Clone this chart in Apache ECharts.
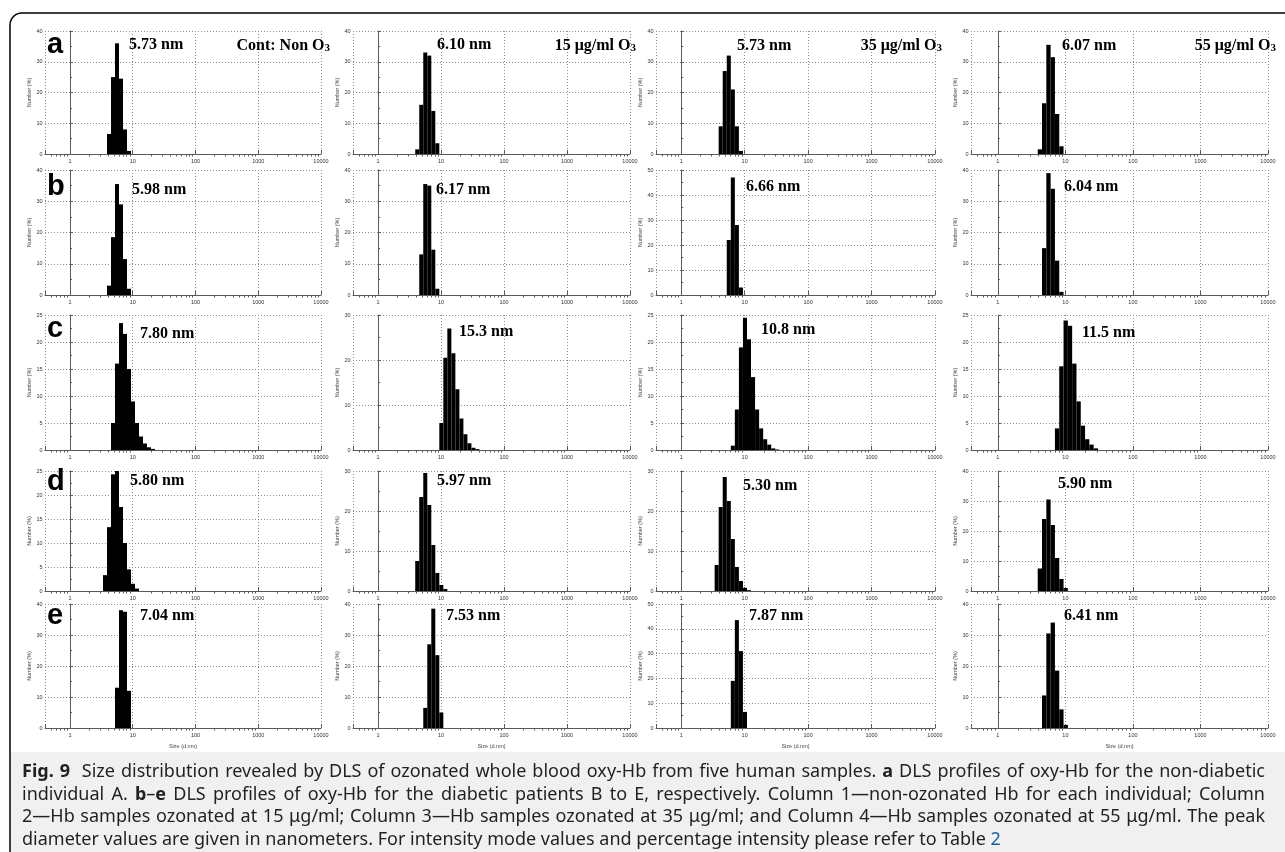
<!DOCTYPE html>
<html>
<head>
<meta charset="utf-8">
<script src="https://cdn.jsdelivr.net/npm/echarts@6/dist/echarts.min.js"></script>
<style>
html,body{margin:0;padding:0;background:#fff;}
#chart{position:absolute;left:0;top:0;width:1285px;height:852px;}
#cap{position:absolute;left:22px;top:759px;width:1243px;font-family:"Noto Sans",sans-serif;font-size:16px;line-height:22.5px;color:#231f20;}
#cap div{text-align:justify;text-align-last:justify;white-space:nowrap;}
#cap div.last{text-align-last:left;}
#cap .lnk{color:#1a5fa8;}
</style>
</head>
<body>
<div id="chart"></div>
<div id="cap">
<div><b>Fig. 9</b>&nbsp; Size distribution revealed by DLS of ozonated whole blood oxy-Hb from five human samples. <b>a</b> DLS profiles of oxy-Hb for the non-diabetic</div>
<div>individual A. <b>b</b>–<b>e</b> DLS profiles of oxy-Hb for the diabetic patients B to E, respectively. Column 1—non-ozonated Hb for each individual; Column</div>
<div>2—Hb samples ozonated at 15 μg/ml; Column 3—Hb samples ozonated at 35 μg/ml; and Column 4—Hb samples ozonated at 55 μg/ml. The peak</div>
<div class="last">diameter values are given in nanometers. For intensity mode values and percentage intensity please refer to Table <span class="lnk">2</span></div>
</div>
<script>
// Zetasizer size classes (nm) – bar centres
const SIZE_CLASSES = [3.122, 3.615, 4.187, 4.849, 5.615, 6.503, 7.531, 8.721, 10.10, 11.70, 13.54, 15.69, 18.17, 21.04, 24.36, 28.21, 32.67, 37.84, 43.82];

// Number (%) per size class, one array per panel (rows a–e, columns 1–4)
const a1 = [0, 0, 6.5, 25, 36, 24.5, 8, 1, 0, 0, 0, 0, 0, 0, 0, 0, 0, 0, 0];
const a2 = [0, 0, 1.5, 16, 33, 32, 14, 3.5, 0, 0, 0, 0, 0, 0, 0, 0, 0, 0, 0];
const a3 = [0, 0, 9, 27, 32, 21, 9, 1, 0, 0, 0, 0, 0, 0, 0, 0, 0, 0, 0];
const a4 = [0, 0, 1.5, 16.5, 35.5, 31.5, 13, 2.5, 0, 0, 0, 0, 0, 0, 0, 0, 0, 0, 0];
const b1 = [0, 0, 3, 18.5, 35.5, 29, 11.5, 2, 0, 0, 0, 0, 0, 0, 0, 0, 0, 0, 0];
const b2 = [0, 0, 0, 13, 35.5, 35, 14.5, 2, 0, 0, 0, 0, 0, 0, 0, 0, 0, 0, 0];
const b3 = [0, 0, 0, 0, 22, 47, 28, 3, 0, 0, 0, 0, 0, 0, 0, 0, 0, 0, 0];
const b4 = [0, 0, 0, 15, 39, 34, 11, 1, 0, 0, 0, 0, 0, 0, 0, 0, 0, 0, 0];
const c1 = [0, 0, 0, 5, 16, 23.5, 21.5, 15, 9, 5, 2.5, 1.2, 0.5, 0.2, 0, 0, 0, 0, 0];
const c2 = [0, 0, 0, 0, 0, 0, 0, 0, 6, 20.5, 27, 21.5, 13.5, 7, 3.5, 1.5, 0.5, 0.2, 0];
const c3 = [0, 0, 0, 0, 0, 0.8, 7.5, 19, 24.5, 20.5, 13.5, 7.5, 4, 2, 1, 0.3, 0.1, 0, 0];
const c4 = [0, 0, 0, 0, 0, 0, 4, 15.5, 24, 23, 16, 9, 4.5, 2, 1, 0.3, 0, 0, 0];
const d1 = [0, 3.3, 13.3, 24.3, 25, 17.5, 10, 4.5, 1.5, 0.5, 0, 0, 0, 0, 0, 0, 0, 0, 0];
const d2 = [0, 0, 7.5, 23.5, 29.5, 21.5, 11.5, 4.5, 1.5, 0.5, 0, 0, 0, 0, 0, 0, 0, 0, 0];
const d3 = [0, 6.5, 21, 28.5, 22.5, 13, 6, 2.5, 0.8, 0.2, 0, 0, 0, 0, 0, 0, 0, 0, 0];
const d4 = [0, 0, 7.5, 24, 30.5, 22, 11, 4, 1, 0, 0, 0, 0, 0, 0, 0, 0, 0, 0];
const e1 = [0, 0, 0, 0, 13, 38, 37.5, 12, 0, 0, 0, 0, 0, 0, 0, 0, 0, 0, 0];
const e2 = [0, 0, 0, 0, 6.5, 27, 38.5, 23.5, 5, 0, 0, 0, 0, 0, 0, 0, 0, 0, 0];
const e3 = [0, 0, 0, 0, 0, 19, 43.5, 31, 6.5, 0, 0, 0, 0, 0, 0, 0, 0, 0, 0];
const e4 = [0, 0, 0, 10.5, 30.5, 34, 18.5, 6, 1, 0, 0, 0, 0, 0, 0, 0, 0, 0, 0];
const PANELS = [a1, a2, a3, a4, b1, b2, b3, b4, c1, c2, c3, c4, d1, d2, d3, d4, e1, e2, e3, e4];

const PEAK_LABELS = ['5.73 nm', '6.10 nm', '5.73 nm', '6.07 nm',
                     '5.98 nm', '6.17 nm', '6.66 nm', '6.04 nm',
                     '7.80 nm', '15.3 nm', '10.8 nm', '11.5 nm',
                     '5.80 nm', '5.97 nm', '5.30 nm', '5.90 nm',
                     '7.04 nm', '7.53 nm', '7.87 nm', '6.41 nm'];
const Y_MAX = [40, 40, 40, 40, 40, 40, 50, 40, 25, 30, 25, 25, 25, 30, 30, 40, 40, 40, 50, 40];
const Y_INTERVAL = [10, 10, 10, 10, 10, 10, 10, 10, 5, 10, 5, 5, 5, 10, 10, 10, 10, 10, 10, 10];
const ROW_LETTERS = ['a', 'b', 'c', 'd', 'e'];
const COLUMN_TITLES = ['Cont: Non O', '15 μg/ml O', '35 μg/ml O', '55 μg/ml O'];
const X_MIN = 0.4, X_MAX = 10000;
const X_MINOR_TICKS = [0.5, 0.6, 0.7, 0.8, 0.9, 2, 3, 4, 5, 6, 7, 8, 9, 20, 30, 40, 50, 60, 70, 80, 90,
                       200, 300, 400, 500, 600, 700, 800, 900, 2000, 3000, 4000, 5000, 6000, 7000, 8000, 9000];

// layout (px)
const ROW_TOP = [31, 170, 315, 471, 604];
const ROW_BOTTOM = [154, 295, 450, 591, 728];
const COL_LEFT = [45, 353, 656, 971];
const COL_RIGHT = [321, 630, 935, 1268];
const PEAK_POS = [[129, 45], [437, 45], [737, 46], [1062, 46],
                  [132, 190], [436, 190], [746, 187], [1064, 187],
                  [140, 334], [459, 332], [761, 330], [1082, 333],
                  [130, 481], [437, 481], [743, 486], [1058, 484],
                  [140, 616], [446, 616], [749, 616], [1064, 616]];
const TITLE_POS = [[330, 45], [636, 45], [942, 45], [1276, 45]];
const LETTER_POS = [[47, 45], [47, 187], [47, 329], [47, 482], [47, 616]];

const AX = '#5a5a5a';
const GRIDC = '#8c8c8c';
const TICKFONT = 5.5;
const option = {animation: false, backgroundColor: '#fff', grid: [], xAxis: [], yAxis: [], series: [], graphic: []};

PANELS.forEach((vals, i) => {
  const r = Math.floor(i / 4), c = i % 4;
  option.grid.push({
    left: COL_LEFT[c], top: ROW_TOP[r],
    width: COL_RIGHT[c] - COL_LEFT[c], height: ROW_BOTTOM[r] - ROW_TOP[r],
    containLabel: false, outerBoundsMode: 'none'
  });
  option.xAxis.push({
    type: 'log', logBase: 10, gridIndex: i, min: X_MIN, max: X_MAX,
    axisLine: {show: true, onZero: false, lineStyle: {color: AX, width: 1}},
    axisTick: {show: true, inside: true, length: 4, lineStyle: {color: AX}},
    axisLabel: {fontSize: TICKFONT, color: '#333', margin: 4, fontFamily: 'Liberation Sans',
      formatter: v => (v < 0.99 ? '' : String(Math.round(v)))},
    splitLine: {show: true, lineStyle: {color: GRIDC, type: [1, 2], width: 1}},
    name: r === 4 ? 'Size (d.nm)' : '', nameLocation: 'middle', nameGap: 15,
    nameTextStyle: {fontSize: 5.5, color: '#444', fontFamily: 'Liberation Sans'}
  });
  option.xAxis.push({
    type: 'value', gridIndex: i, min: Math.log10(X_MIN), max: Math.log10(X_MAX),
    axisLine: {show: false},
    axisTick: {show: true, inside: true, length: 2.5, lineStyle: {color: AX},
      customValues: X_MINOR_TICKS.map(v => Math.log10(v))},
    axisLabel: {show: false}, splitLine: {show: false}
  });
  option.yAxis.push({
    type: 'value', gridIndex: i, min: 0, max: Y_MAX[i], interval: Y_INTERVAL[i],
    axisLine: {show: true, lineStyle: {color: AX, width: 1}},
    axisTick: {show: true, inside: true, length: 3, lineStyle: {color: AX}},
    minorTick: {show: true, splitNumber: 2, length: 2, lineStyle: {color: AX}},
    axisLabel: {fontSize: TICKFONT, color: '#333', margin: 2.5, fontFamily: 'Liberation Sans'},
    splitLine: {show: true, lineStyle: {color: GRIDC, type: [1, 2], width: 1}},
    name: 'Number (%)', nameLocation: 'middle', nameGap: 13,
    nameTextStyle: {fontSize: 5.5, color: '#444', fontFamily: 'Liberation Sans'}
  });
  const data = [];
  vals.forEach((v, k) => {
    if (v <= 0) return;
    const lo = Math.sqrt(SIZE_CLASSES[k - 1] * SIZE_CLASSES[k]);
    const hi = Math.sqrt(SIZE_CLASSES[k] * SIZE_CLASSES[k + 1]);
    data.push([lo, hi, v]);
  });
  option.series.push({
    type: 'custom', xAxisIndex: 2 * i, yAxisIndex: i, data: data,
    encode: {x: [0, 1], y: 2},
    renderItem: (params, api) => {
      const p0 = api.coord([api.value(0), api.value(2)]);
      const p1 = api.coord([api.value(1), 0]);
      return {type: 'rect', shape: {x: p0[0], y: p0[1], width: p1[0] - p0[0], height: p1[1] - p0[1]},
              style: {fill: '#000'}};
    }
  });
  option.graphic.push({
    type: 'text', x: PEAK_POS[i][0], y: PEAK_POS[i][1], z: 50,
    style: {text: PEAK_LABELS[i], fontFamily: 'Liberation Serif', fontWeight: 'bold', fontSize: 16,
            fill: '#000', align: 'left', verticalAlign: 'middle'}
  });
});

COLUMN_TITLES.forEach((t, c) => {
  option.graphic.push({
    type: 'text', x: TITLE_POS[c][0], y: TITLE_POS[c][1], z: 50,
    style: {text: '{t|' + t + '}{s|3}', align: 'right', verticalAlign: 'middle',
      rich: {
        t: {fontFamily: 'Liberation Serif', fontWeight: 'bold', fontSize: 16, fill: '#000', lineHeight: 18, verticalAlign: 'bottom'},
        s: {fontFamily: 'Liberation Serif', fontWeight: 'bold', fontSize: 11, fill: '#000', lineHeight: 6, verticalAlign: 'bottom'}
      }}
  });
});
ROW_LETTERS.forEach((l, r) => {
  option.graphic.push({
    type: 'text', x: LETTER_POS[r][0], y: LETTER_POS[r][1], z: 50,
    style: {text: l, fontFamily: 'Liberation Sans', fontWeight: 'bold', fontSize: 29, fill: '#000',
            align: 'left', verticalAlign: 'middle'}
  });
});
// caption background and frame
option.graphic.push({type: 'rect', silent: true, z: -10, shape: {x: 10, y: 752, width: 1300, height: 130},
  style: {fill: '#f0f0f0'}});
option.graphic.push({type: 'rect', silent: true, z: 100, shape: {x: 10, y: 13, width: 1300, height: 900, r: 12},
  style: {fill: 'none', stroke: '#000', lineWidth: 1.5}});

const chart = echarts.init(document.getElementById('chart'), null, {renderer: 'canvas'});
chart.setOption(option);

// fit caption font so the justified lines are only slightly stretched
(function fitCaption() {
  const cap = document.getElementById('cap');
  const lines = cap.querySelectorAll('div');
  const probe = document.createElement('span');
  probe.style.cssText = 'position:absolute;left:-5000px;top:0;visibility:hidden;white-space:nowrap;font-family:"Noto Sans",sans-serif;font-size:16px;';
  document.body.appendChild(probe);
  let maxW = 0;
  for (let k = 0; k < 3; k++) {
    probe.innerHTML = lines[k].innerHTML;
    maxW = Math.max(maxW, probe.getBoundingClientRect().width);
  }
  document.body.removeChild(probe);
  if (maxW > 0) cap.style.fontSize = Math.min(18, 16 * 1232 / maxW).toFixed(2) + 'px';
})();
</script>
</body>
</html>
